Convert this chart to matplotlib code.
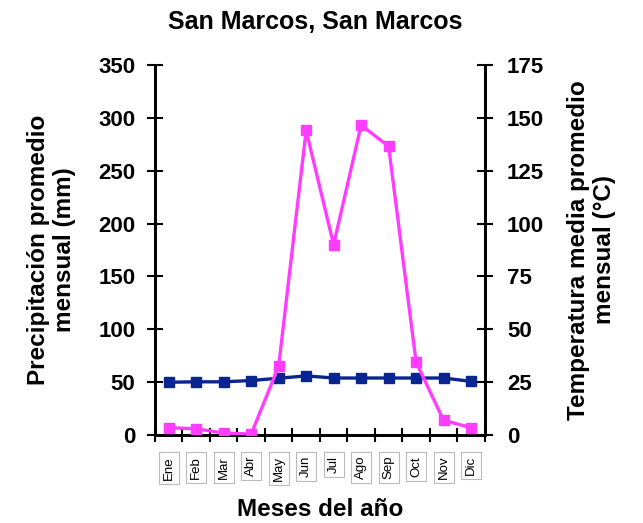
import numpy as np
import matplotlib
matplotlib.use('Agg')
import matplotlib.pyplot as plt

plt.rcParams['font.family'] = ['Liberation Sans', 'DejaVu Sans']
plt.rcParams['font.weight'] = 'bold'

meses = ['Ene', 'Feb', 'Mar', 'Abr', 'May', 'Jun', 'Jul', 'Ago', 'Sep', 'Oct', 'Nov', 'Dic']
precipitacion = [7, 6, 2, 1, 65, 288, 180, 293, 273, 69, 14, 7]
temperatura = [25.0, 25.2, 25.2, 25.8, 26.9, 28.0, 27.0, 27.0, 27.0, 27.0, 27.0, 25.4]

fig = plt.figure(figsize=(6.43, 5.23), dpi=100)
ax = fig.add_axes([0.241, 0.168, 0.513, 0.708])
ax2 = ax.twinx()

x = np.arange(len(meses))
ax.plot(x, precipitacion, color='#FF3CFF', lw=2.4, marker='s', ms=7, zorder=3)
ax2.plot(x, temperatura, color='#0A2490', lw=2.4, marker='s', ms=7, zorder=3)
ax.set_zorder(ax2.get_zorder() + 1)
ax.patch.set_visible(False)

ax.set_xlim(-0.5, 11.5)
ax.set_ylim(0, 350)
ax2.set_ylim(0, 175)
ax.set_yticks(np.arange(0, 351, 50))
ax2.set_yticks(np.arange(0, 176, 25))

ax.set_xticks(np.arange(-0.5, 12, 1))
ax.set_xticklabels([])
ax.set_xticks(x, minor=True)
ax.set_xticklabels(meses, minor=True, rotation=90, fontsize=9.5, fontweight='normal',
                   bbox=dict(boxstyle='square,pad=0.3', fc='white', ec='#BBBBBB', lw=0.8))
ax.tick_params(axis='x', which='minor', length=0, pad=15)
ax.tick_params(axis='x', which='major', direction='inout', length=10, width=1.5)
ax.tick_params(axis='y', direction='inout', length=12, width=1.5, labelsize=16, pad=8)
ax2.tick_params(axis='y', direction='inout', length=12, width=1.5, labelsize=16, pad=10)
for a in (ax, ax2):
    a.spines['top'].set_visible(False)
    for s in ('left', 'right', 'bottom'):
        a.spines[s].set_linewidth(2)

ax.set_ylabel('Precipitación promedio\nmensual (mm)', fontsize=17.5, fontweight='bold', labelpad=16)
ax2.set_ylabel('Temperatura media promedio\nmensual (°C)', fontsize=17.5, fontweight='bold',
               rotation=90, labelpad=16)
ax.set_xlabel('Meses del año', fontsize=17.5, fontweight='bold', labelpad=12)
fig.text(0.49, 0.958, 'San Marcos, San Marcos', ha='center', va='center',
         fontsize=18, fontweight='bold')

fig.savefig('out.png', dpi=100)
